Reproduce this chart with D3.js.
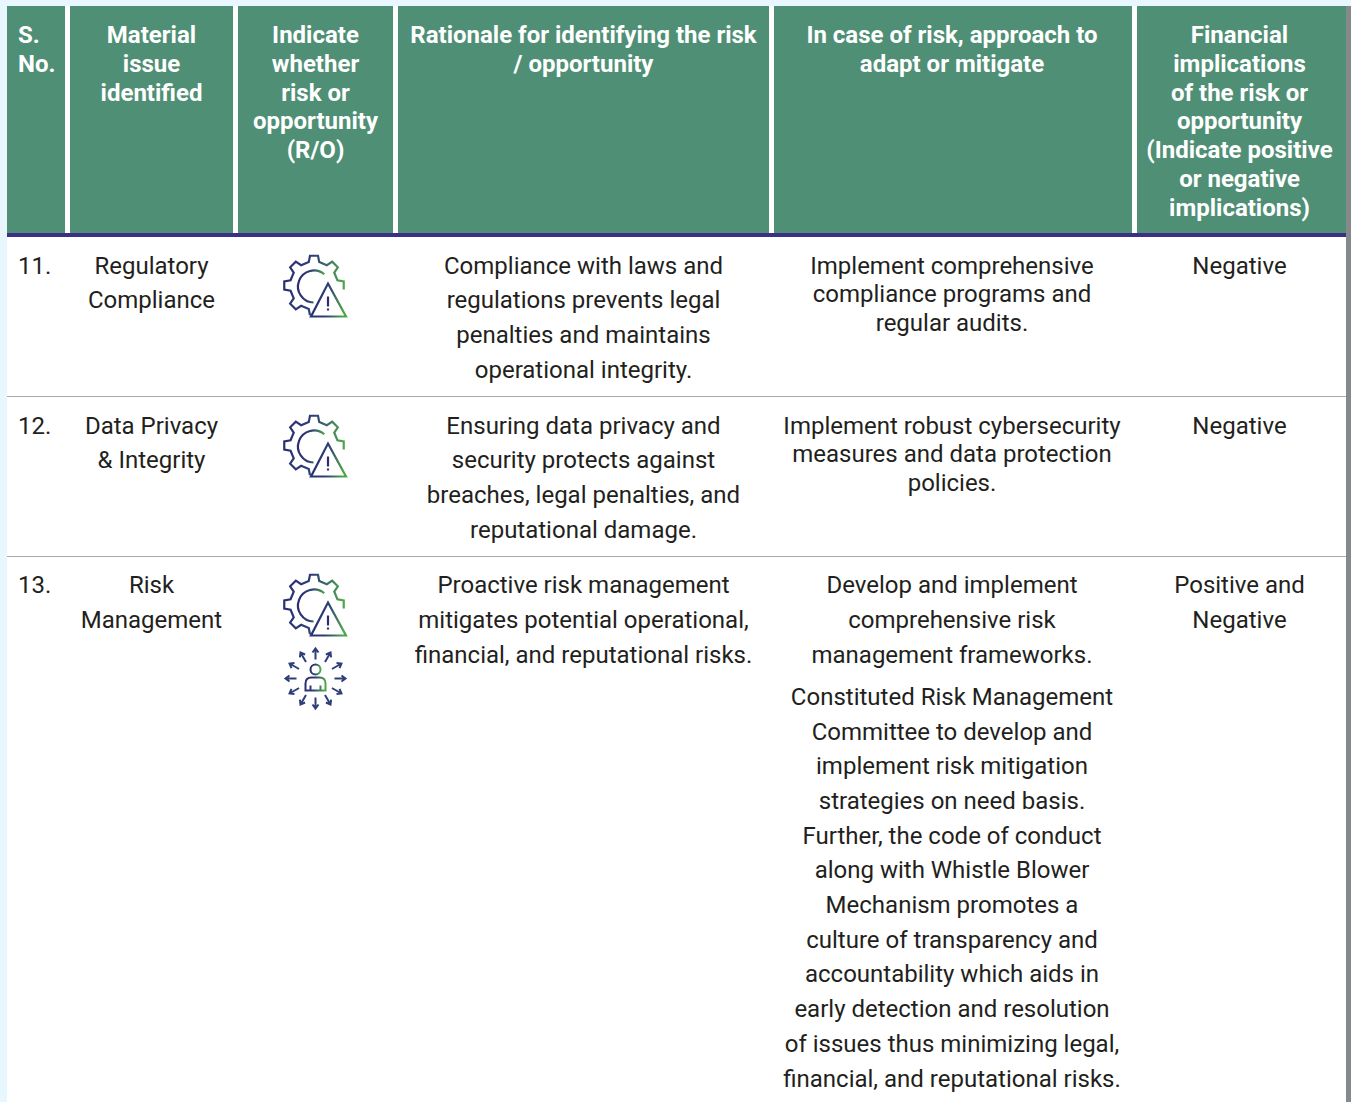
<!DOCTYPE html>
<html>
<head>
<meta charset="utf-8">
<script src="https://cdn.jsdelivr.net/npm/d3@7"></script>
<style>
  html, body { margin: 0; padding: 0; background: #e8f6fd; overflow: hidden; }
  svg { display: block; }
  text { font-family: Roboto, sans-serif; }
  .head { font-size: 24px; font-weight: 700; fill: #fff; }
  .cell { font-size: 24px; fill: #231f20; }
</style>
</head>
<body>
<svg id="chart"></svg>
<script>
// table content
const columnKeys = ['no', 'issue', 'type', 'rationale', 'approach', 'financial'];
const headers = [
  ['S.', 'No.'],
  ['Material', 'issue', 'identified'],
  ['Indicate', 'whether', 'risk or', 'opportunity', '(R/O)'],
  ['Rationale for identifying the risk', '/ opportunity'],
  ['In case of risk, approach to', 'adapt or mitigate'],
  ['Financial', 'implications', 'of the risk or', 'opportunity', '(Indicate positive', 'or negative', 'implications)']
];
const serialNumbers = ['11.', '12.', '13.'];
const issues = [
  ['Regulatory', 'Compliance'],
  ['Data Privacy', '& Integrity'],
  ['Risk', 'Management']
];
const icons = [['risk'], ['risk'], ['risk', 'opportunity']];
const rationales = [
  ['Compliance with laws and', 'regulations prevents legal', 'penalties and maintains', 'operational integrity.'],
  ['Ensuring data privacy and', 'security protects against', 'breaches, legal penalties, and', 'reputational damage.'],
  ['Proactive risk management', 'mitigates potential operational,', 'financial, and reputational risks.']
];
const approaches = [
  ['Implement comprehensive', 'compliance programs and', 'regular audits.'],
  ['Implement robust cybersecurity', 'measures and data protection', 'policies.'],
  ['Develop and implement', 'comprehensive risk', 'management frameworks.']
];
const approachExtra = ['Constituted Risk Management', 'Committee to develop and', 'implement risk mitigation', 'strategies on need basis.', 'Further, the code of conduct', 'along with Whistle Blower', 'Mechanism promotes a', 'culture of transparency and', 'accountability which aids in', 'early detection and resolution', 'of issues thus minimizing legal,', 'financial, and reputational risks.'];
const financials = [['Negative'], ['Negative'], ['Positive and', 'Negative']];

// layout
const config = {
  width: 1351, height: 1102,
  tableLeft: 7, tableRight: 1346, tableTop: 6,
  headBottom: 233, ruleHeight: 4,
  colEdges: [[7, 65], [70, 233], [238, 393], [398, 769], [774, 1132], [1137, 1346]],
  colCentres: [18, 151.5, 315.5, 583.5, 952, 1239.5],
  rowTops: [237, 397, 557],
  rowLine: 34.7, tightLine: 28.7, headLine: 28.8
};

const svg = d3.select('#chart').attr('width', config.width).attr('height', config.height);

const defs = svg.append('defs');
const grad = defs.append('linearGradient').attr('id', 'iconGrad')
    .attr('x1', 0).attr('x2', 1).attr('y1', 0).attr('y2', 0.1);
grad.append('stop').attr('offset', '0%').attr('stop-color', '#2b2c72');
grad.append('stop').attr('offset', '50%').attr('stop-color', '#2e3f78');
grad.append('stop').attr('offset', '100%').attr('stop-color', '#4ea64a');

// white sheet + grey edge on the right
svg.append('rect').attr('x', config.tableRight).attr('y', config.tableTop)
    .attr('width', config.width - config.tableRight).attr('height', config.height)
    .attr('fill', '#84898c');
svg.append('rect').attr('x', config.tableLeft).attr('y', config.tableTop)
    .attr('width', config.tableRight - config.tableLeft).attr('height', config.height)
    .attr('fill', '#fff');

const colX = d3.scaleOrdinal().domain(columnKeys).range(config.colCentres);

// header
svg.selectAll('.head-bg')
    .data(config.colEdges)
    .join('rect')
    .attr('class', 'head-bg')
    .attr('x', d => d[0])
    .attr('y', config.tableTop)
    .attr('width', d => d[1] - d[0])
    .attr('height', config.headBottom - config.tableTop)
    .attr('fill', '#4f8f75');

svg.append('rect')
    .attr('x', config.tableLeft).attr('y', config.headBottom)
    .attr('width', config.tableRight - config.tableLeft).attr('height', config.ruleHeight)
    .attr('fill', '#3b2f86');

// draws a block of centred (or left) lines; top is the centre of the first line
function drawLines(cls, lines, key, top, step) {
  svg.append('g').selectAll('text')
      .data(lines)
      .join('text')
      .attr('class', cls)
      .attr('x', colX(key))
      .attr('y', (d, i) => top + i * step + 7.6)
      .attr('text-anchor', key === 'no' ? 'start' : 'middle')
      .text(d => d);
}

headers.forEach((lines, i) => drawLines('head', lines, columnKeys[i], 35.3, config.headLine));

// row separators
svg.selectAll('.sep')
    .data(config.rowTops.slice(1))
    .join('line')
    .attr('class', 'sep')
    .attr('x1', config.tableLeft).attr('x2', config.tableRight)
    .attr('y1', d => d - 0.5).attr('y2', d => d - 0.5)
    .attr('stroke', '#a6a8ab');

// body
const textTops = [266, 426, 585.5];
serialNumbers.forEach((n, i) => {
  const top = textTops[i];
  drawLines('cell', [n], 'no', top, config.rowLine);
  drawLines('cell', issues[i], 'issue', top, config.rowLine);
  drawLines('cell', rationales[i], 'rationale', top, config.rowLine);
  drawLines('cell', approaches[i], 'approach', top, i < 2 ? config.tightLine : config.rowLine);
  drawLines('cell', financials[i], 'financial', top, config.rowLine);
});
drawLines('cell', approachExtra, 'approach', 697.25, config.rowLine);

// icons
// gear outline between two positions, counted in teeth clockwise from the top
function gearPath(r0, r1, teeth, from, to) {
  const pitch = 2 * Math.PI / teeth;
  const steps = [];
  for (let k = Math.floor(from); k <= Math.ceil(to); k++) {
    steps.push([k - 0.28, r0], [k - 0.17, r1], [k + 0.17, r1], [k + 0.28, r0]);
  }
  const kept = steps.filter(s => s[0] >= from && s[0] <= to);
  const pts = kept.map(s => {
    const ang = s[0] * pitch - Math.PI / 2;
    return [Math.cos(ang) * s[1], Math.sin(ang) * s[1]];
  });
  return d3.line()(pts);
}

function drawRiskIcon(cx, cy) {
  const g = svg.append('g').attr('transform', `translate(${cx},${cy})`)
      .attr('fill', 'none').attr('stroke', 'url(#iconGrad)')
      .attr('stroke-width', 2.2).attr('stroke-linejoin', 'miter');
  // gear, open at the lower right where the triangle sits
  g.append('path').attr('d', gearPath(24, 30, 8, -3.85, 2.17));
  // inner ring, open towards the triangle
  const ring = d3.path();
  ring.arc(0, 1, 16, -0.87, 1.6, true);
  g.append('path').attr('d', ring.toString());
  // warning triangle
  g.append('path').attr('d', d3.line()([[14, -2], [32, 31], [-3, 31]]) + 'Z');
  g.append('path').attr('d', 'M14 11V21').attr('stroke', '#2b2c72');
  g.append('path').attr('d', 'M14 23V25').attr('stroke', '#2b2c72');
}

function drawPeopleIcon(cx, cy) {
  const g = svg.append('g').attr('transform', `translate(${cx},${cy})`)
      .attr('fill', 'none').attr('stroke', 'url(#iconGrad)').attr('stroke-width', 2);
  d3.range(12).forEach(i => {
    const a = g.append('g').attr('transform', `rotate(${i * 30})`);
    a.append('path').attr('d', 'M0 -19V-30M-3 -26L0 -30L3 -26').attr('stroke', '#2e3f78');
  });
  g.append('circle').attr('cy', -9).attr('r', 5);
  g.append('path').attr('d', 'M-10 12V5Q-10 -1 -4 -1H4Q10 -1 10 5V12ZM-5 12V7M5 12V7');
}

const iconTops = [285.5, 445.5, 604.5];
icons.forEach((list, i) => {
  list.forEach(kind => {
    if (kind === 'risk') drawRiskIcon(314, iconTops[i]);
    else drawPeopleIcon(315.5, iconTops[i] + 74);
  });
});
</script>
</body>
</html>
